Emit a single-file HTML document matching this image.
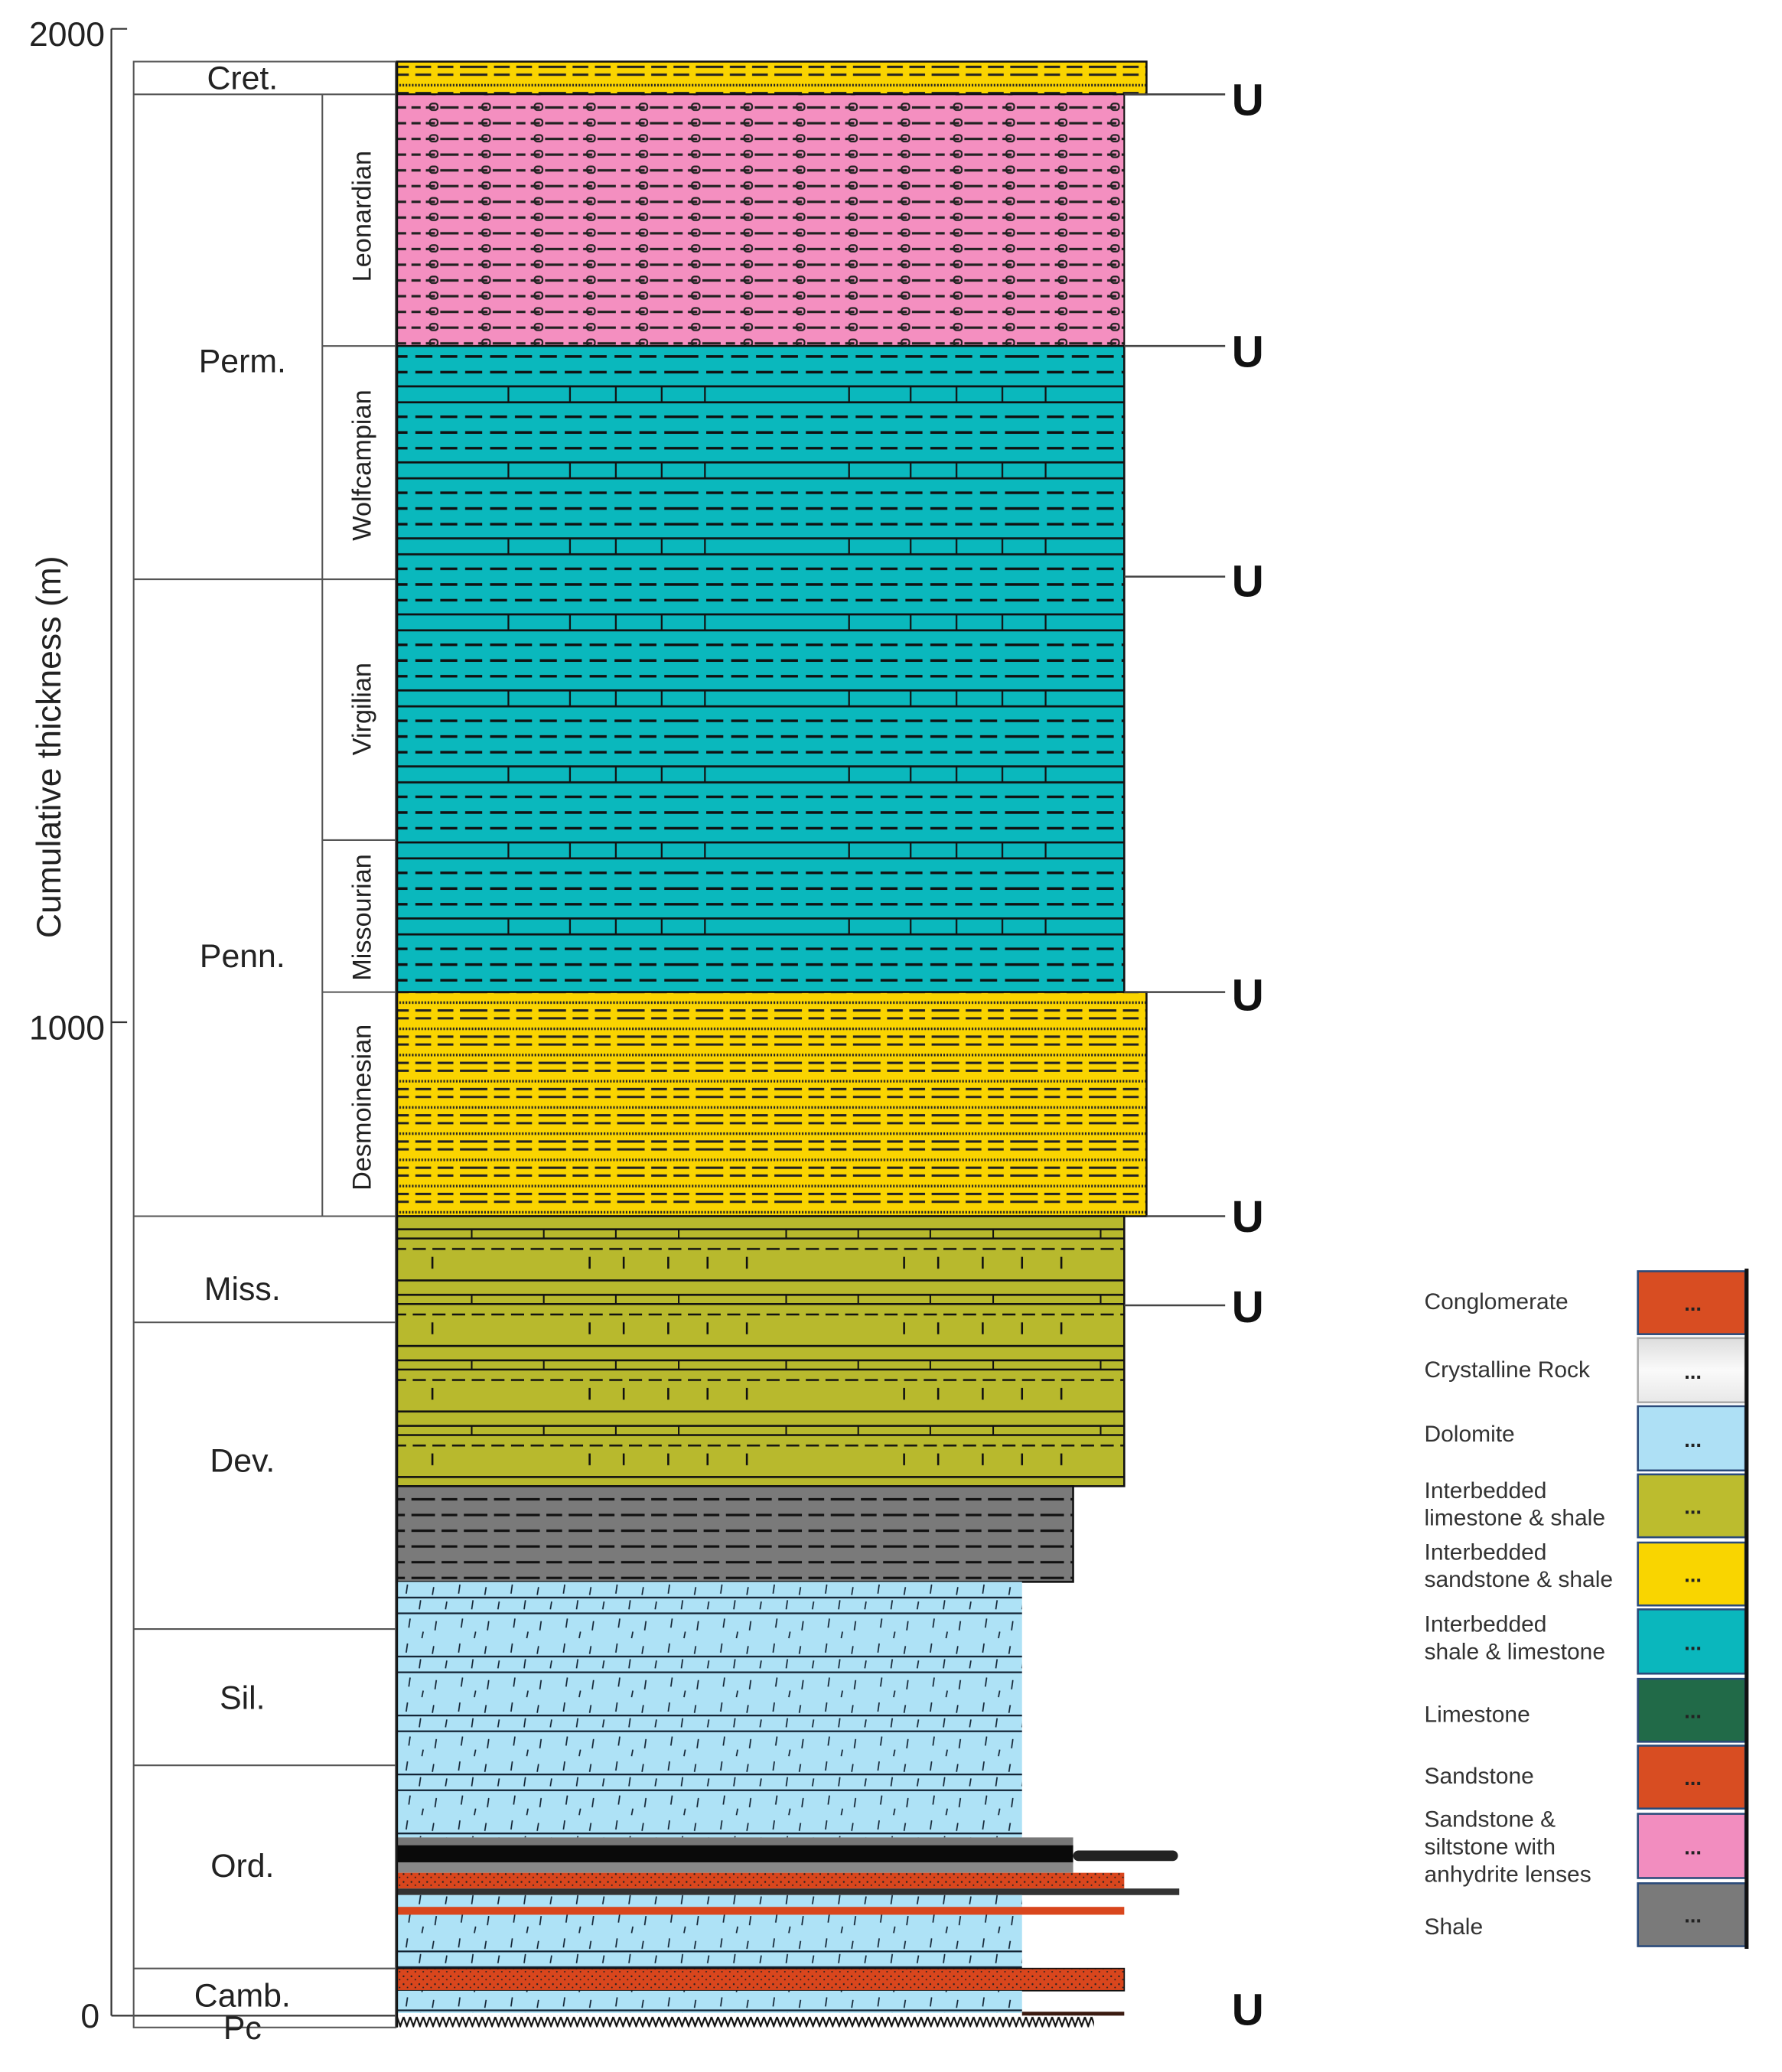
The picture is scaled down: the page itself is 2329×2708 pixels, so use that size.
<!DOCTYPE html>
<html><head><meta charset="utf-8"><style>html,body{margin:0;padding:0;background:#fff}svg{display:block}</style></head>
<body>
<svg width="2329" height="2708" viewBox="0 0 1360 1581" preserveAspectRatio="none" xmlns="http://www.w3.org/2000/svg" font-family="Liberation Sans, sans-serif">
<defs>
<pattern id="teal" patternUnits="userSpaceOnUse" x="0" y="294" width="260" height="58">
<rect width="260" height="58" fill="#0ab8bd"/>
<line x1="0" y1="0.8" x2="260" y2="0.8" stroke="#111" stroke-width="1.6"/>
<line x1="0" y1="13" x2="260" y2="13" stroke="#111" stroke-width="1.6"/>
<path d="M18 0V13M128 0V13M175 0V13M210 0V13M245 0V13" stroke="#111" stroke-width="1.3"/>
<line x1="0" y1="24" x2="260" y2="24" stroke="#111" stroke-width="2" stroke-dasharray="13,6"/>
<line x1="0" y1="36" x2="260" y2="36" stroke="#111" stroke-width="2" stroke-dasharray="13,6"/>
<line x1="0" y1="48" x2="260" y2="48" stroke="#111" stroke-width="2" stroke-dasharray="13,6"/>
</pattern>
<pattern id="pink" patternUnits="userSpaceOnUse" x="303" y="76" width="40" height="12">
<rect width="40" height="12" fill="#f48fc0"/>
<line x1="0" y1="6" x2="40" y2="6" stroke="#222" stroke-width="1.8" stroke-dasharray="7,4"/>
<rect x="25" y="3" width="6" height="5" rx="2" fill="none" stroke="#222" stroke-width="1.3"/>
</pattern>
<pattern id="yel" patternUnits="userSpaceOnUse" x="0" y="762" width="60" height="20">
<rect width="60" height="20" fill="#fad400"/>
<line x1="0" y1="3" x2="60" y2="3" stroke="#222" stroke-width="2" stroke-dasharray="1.2,1.2"/>
<line x1="0" y1="9" x2="60" y2="9" stroke="#222" stroke-width="1.8" stroke-dasharray="12,5"/>
<line x1="0" y1="15" x2="60" y2="15" stroke="#222" stroke-width="1.8" stroke-dasharray="12,5"/>
</pattern>
<pattern id="olive" patternUnits="userSpaceOnUse" x="0" y="937" width="240" height="50">
<rect width="240" height="50" fill="#b8b92d"/>
<line x1="0" y1="1" x2="240" y2="1" stroke="#111" stroke-width="1.5"/>
<line x1="0" y1="8" x2="240" y2="8" stroke="#111" stroke-width="1.5"/>
<path d="M38 1V8M120 1V8M175 1V8M230 1V8" stroke="#111" stroke-width="1.2"/>
<line x1="0" y1="16" x2="240" y2="16" stroke="#111" stroke-width="1.5" stroke-dasharray="10,5"/>
<path d="M210 22V31M236 22V31M30 22V31M60 22V31M90 22V31" stroke="#111" stroke-width="1.5"/>
<line x1="0" y1="40" x2="240" y2="40" stroke="#111" stroke-width="1.5"/>
</pattern>
<pattern id="gray" patternUnits="userSpaceOnUse" x="0" y="1140" width="40" height="12">
<rect width="40" height="12" fill="#7a7a7a"/>
<line x1="0" y1="4" x2="40" y2="4" stroke="#111" stroke-width="1.8" stroke-dasharray="12,5"/>
</pattern>
<pattern id="dol" patternUnits="userSpaceOnUse" x="303" y="1207" width="40" height="45">
<rect width="40" height="45" fill="#aee2f6"/>
<line x1="0" y1="12" x2="40" y2="12" stroke="#123" stroke-width="1.3"/>
<line x1="0" y1="24" x2="40" y2="24" stroke="#123" stroke-width="1.3"/>
<path d="M8 2l-1 7M28 4l-1 6M18 14l-1 7M38 15l-1 6M10 28l-1 7M30 30l-1 7M20 38l-1 5" stroke="#123" stroke-width="1"/>
</pattern>
<pattern id="red" patternUnits="userSpaceOnUse" width="6" height="6">
<rect width="6" height="6" fill="#d9461d"/><circle cx="2" cy="2" r="0.7" fill="#222"/><circle cx="5" cy="4.5" r="0.6" fill="#222"/>
</pattern>
<pattern id="pc" patternUnits="userSpaceOnUse" x="303" y="1538" width="5" height="9">
<rect width="5" height="9" fill="#fff"/><path d="M0 1L2.5 8L5 1" fill="none" stroke="#111" stroke-width="1.3"/>
</pattern>
<linearGradient id="cry" x1="0" y1="0" x2="0" y2="1"><stop offset="0" stop-color="#ddd"/><stop offset="0.5" stop-color="#fafafa"/><stop offset="1" stop-color="#e8e8e8"/></linearGradient>
</defs>

<!-- axis -->
<g stroke="#333" stroke-width="1.3" fill="none">
<line x1="85" y1="22" x2="85" y2="1538"/>
<line x1="85" y1="22" x2="97" y2="22"/>
<line x1="85" y1="780" x2="97" y2="780"/>
<line x1="85" y1="1538" x2="302" y2="1538"/>
</g>
<g font-size="26" fill="#222" text-anchor="end">
<text x="80" y="35">2000</text>
<text x="80" y="793">1000</text>
<text x="76" y="1547">0</text>
</g>
<text transform="translate(46,570) rotate(-90)" text-anchor="middle" font-size="26" fill="#222">Cumulative thickness (m)</text>

<!-- stratigraphic boxes -->
<g stroke="#555" stroke-width="1.2" fill="none">
<rect x="102" y="47" width="200" height="1500"/>
<line x1="102" y1="72" x2="302" y2="72"/>
<line x1="102" y1="442" x2="302" y2="442"/>
<line x1="102" y1="928" x2="302" y2="928"/>
<line x1="102" y1="1009" x2="302" y2="1009"/>
<line x1="102" y1="1243" x2="302" y2="1243"/>
<line x1="102" y1="1347" x2="302" y2="1347"/>
<line x1="102" y1="1502" x2="302" y2="1502"/>
<line x1="246" y1="72" x2="246" y2="928"/>
<line x1="246" y1="264" x2="302" y2="264"/>
<line x1="246" y1="641" x2="302" y2="641"/>
<line x1="246" y1="757" x2="302" y2="757"/>
</g>
<g font-size="25" fill="#222" text-anchor="middle">
<text x="185" y="68">Cret.</text>
<text x="185" y="284">Perm.</text>
<text x="185" y="738">Penn.</text>
<text x="185" y="992">Miss.</text>
<text x="185" y="1123">Dev.</text>
<text x="185" y="1304">Sil.</text>
<text x="185" y="1432">Ord.</text>
<text x="185" y="1531">Camb.</text>
<text x="185" y="1556">Pc</text>
</g>
<g font-size="20" fill="#222" text-anchor="middle">
<text transform="translate(283,165) rotate(-90)">Leonardian</text>
<text transform="translate(283,355) rotate(-90)">Wolfcampian</text>
<text transform="translate(283,541) rotate(-90)">Virgilian</text>
<text transform="translate(283,700) rotate(-90)">Missourian</text>
<text transform="translate(283,845) rotate(-90)">Desmoinesian</text>
</g>

<!-- lithology column -->
<rect x="303" y="47" width="572" height="25" fill="url(#yel)" stroke="#111" stroke-width="1.5"/>
<rect x="303" y="72" width="555" height="192" fill="url(#pink)" stroke="#111" stroke-width="1.2"/>
<rect x="303" y="264" width="555" height="493" fill="url(#teal)" stroke="#111" stroke-width="1.5"/>
<rect x="303" y="757" width="572" height="171" fill="url(#yel)" stroke="#111" stroke-width="1.5"/>
<rect x="303" y="928" width="555" height="206" fill="url(#olive)" stroke="#111" stroke-width="1.5"/>
<rect x="303" y="1134" width="516" height="73" fill="url(#gray)" stroke="#111" stroke-width="1.5"/>
<rect x="303" y="1207" width="477" height="195" fill="url(#dol)"/>
<rect x="303" y="1402" width="516" height="8" fill="#777"/>
<rect x="303" y="1408" width="516" height="14" fill="#0a0a0a"/>
<rect x="303" y="1421" width="516" height="8" fill="#888"/>
<rect x="819" y="1412" width="80" height="8" rx="4" fill="#222"/>
<rect x="303" y="1429" width="555" height="12" fill="url(#red)"/>
<rect x="303" y="1441" width="597" height="5" fill="#333"/>
<rect x="303" y="1446" width="477" height="56" fill="url(#dol)"/>
<rect x="303" y="1455" width="555" height="6" fill="#d9461d"/>
<rect x="303" y="1502" width="555" height="17" fill="url(#red)" stroke="#111" stroke-width="1"/>
<rect x="303" y="1519" width="477" height="17" fill="url(#dol)"/>
<rect x="780" y="1535" width="78" height="3" fill="#3a1a10"/>
<rect x="303" y="1538" width="532" height="9" fill="url(#pc)"/>
<line x1="303" y1="47" x2="303" y2="1547" stroke="#111" stroke-width="1.5"/>

<!-- unconformities -->
<g stroke="#444" stroke-width="1.5">
<line x1="858" y1="72" x2="935" y2="72"/>
<line x1="858" y1="264" x2="935" y2="264"/>
<line x1="858" y1="440" x2="935" y2="440"/>
<line x1="858" y1="757" x2="935" y2="757"/>
<line x1="875" y1="928" x2="935" y2="928"/>
<line x1="858" y1="996" x2="935" y2="996"/>
</g>
<g font-size="34" font-weight="bold" fill="#111">
<text x="940" y="88">U</text>
<text x="940" y="280">U</text>
<text x="940" y="455">U</text>
<text x="940" y="771">U</text>
<text x="940" y="940">U</text>
<text x="940" y="1009">U</text>
<text x="940" y="1545">U</text>
</g>

<!-- legend -->
<g font-size="17.5" fill="#333">
<text x="1087" y="999">Conglomerate</text>
<text x="1087" y="1051">Crystalline Rock</text>
<text x="1087" y="1100">Dolomite</text>
<text x="1087" y="1143">Interbedded</text><text x="1087" y="1164">limestone &amp; shale</text>
<text x="1087" y="1190">Interbedded</text><text x="1087" y="1211">sandstone &amp; shale</text>
<text x="1087" y="1245">Interbedded</text><text x="1087" y="1266">shale &amp; limestone</text>
<text x="1087" y="1314">Limestone</text>
<text x="1087" y="1361">Sandstone</text>
<text x="1087" y="1394">Sandstone &amp;</text><text x="1087" y="1415">siltstone with</text><text x="1087" y="1436">anhydrite lenses</text>
<text x="1087" y="1476">Shale</text>
</g>
<g stroke="#2a4a7a" stroke-width="1.5">
<rect x="1250" y="970" width="82" height="48" fill="#d84d22"/>
<rect x="1250" y="1021" width="82" height="49" fill="url(#cry)" stroke="#aaa"/>
<rect x="1250" y="1073" width="82" height="49" fill="#aee0f5"/>
<rect x="1250" y="1125" width="82" height="48" fill="#bcbc2e"/>
<rect x="1250" y="1177" width="82" height="48" fill="#f9d500"/>
<rect x="1250" y="1228" width="82" height="49" fill="#0ab7bd"/>
<rect x="1250" y="1281" width="82" height="48" fill="#216a48"/>
<rect x="1250" y="1332" width="82" height="48" fill="#d84d22"/>
<rect x="1250" y="1384" width="82" height="49" fill="#f28dbf"/>
<rect x="1250" y="1437" width="82" height="48" fill="#7a7a7a"/>
</g>
<line x1="1333" y1="968" x2="1333" y2="1487" stroke="#111" stroke-width="3"/>
<g font-size="16" font-weight="bold" fill="#222" text-anchor="middle">
<text x="1292" y="1000">...</text><text x="1292" y="1052">...</text><text x="1292" y="1104">...</text>
<text x="1292" y="1155">...</text><text x="1292" y="1207">...</text><text x="1292" y="1259">...</text>
<text x="1292" y="1311">...</text><text x="1292" y="1362">...</text><text x="1292" y="1415">...</text>
<text x="1292" y="1467">...</text>
</g>
</svg>
</body></html>
